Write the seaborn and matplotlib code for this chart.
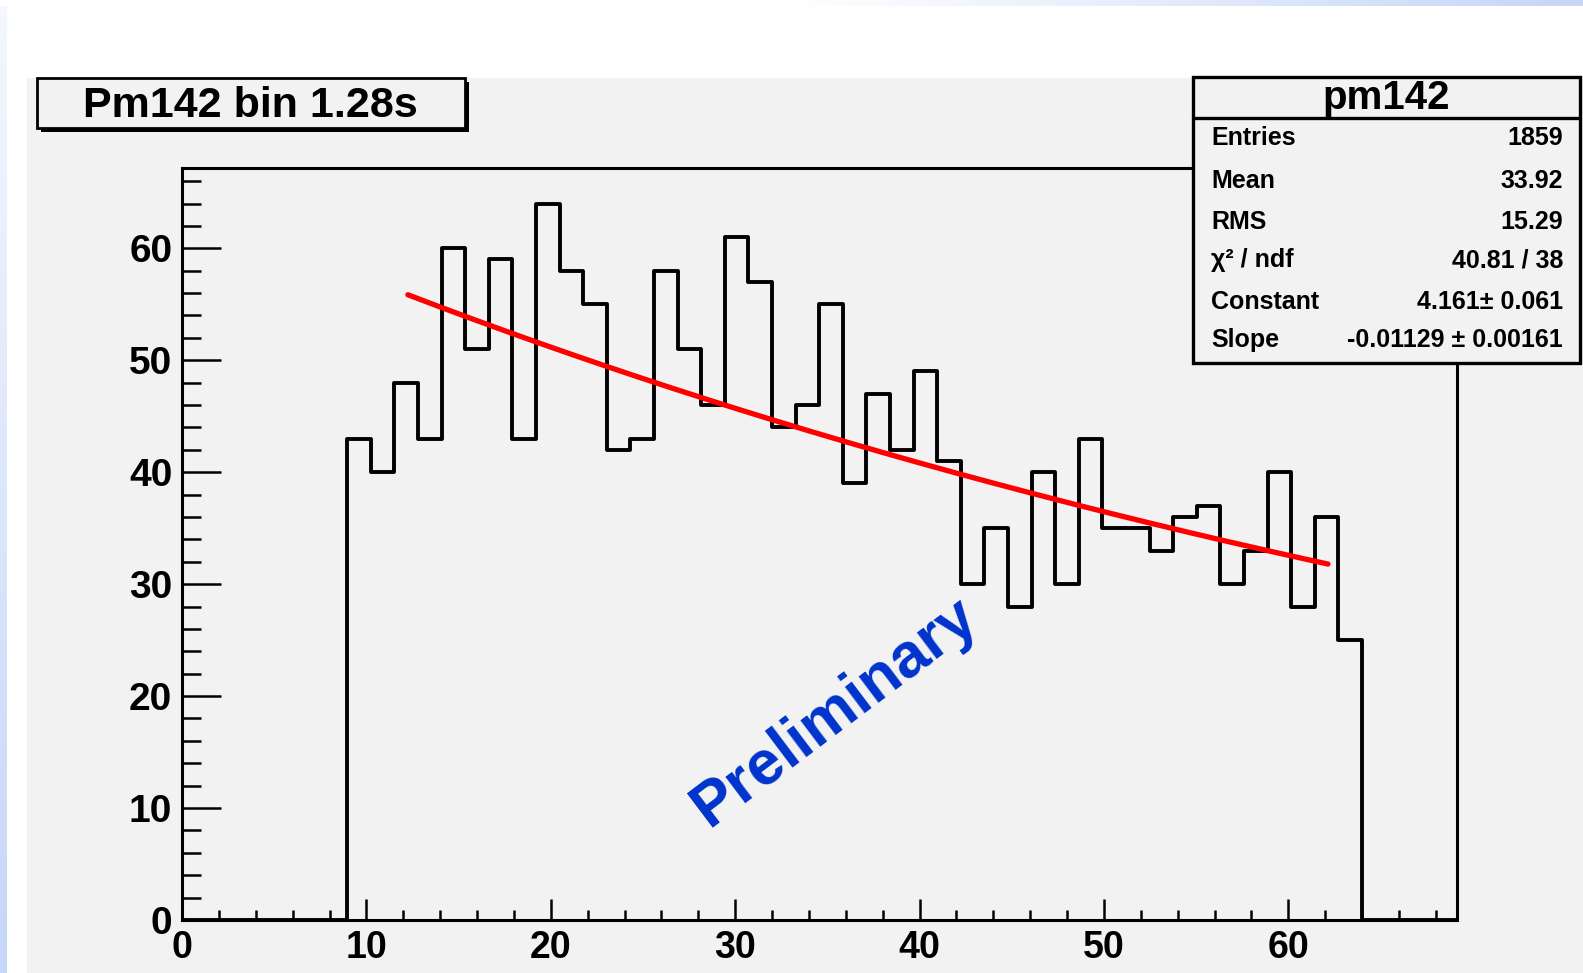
import numpy as np
import pandas as pd
import matplotlib
matplotlib.use("Agg")
import matplotlib.pyplot as plt
import seaborn as sns
from matplotlib.patches import Rectangle
from matplotlib.colors import LinearSegmentedColormap
from matplotlib.ticker import MultipleLocator

# ---- histogram data: 1.28 s bins, counts for bins 7..49 ----
bin_width = 1.28
n_bins = 54
first_bin = 7
counts = [43, 40, 48, 43, 60, 51, 59, 43, 64, 58, 55, 42, 43, 58, 51, 46,
          61, 57, 44, 46, 55, 39, 47, 42, 49, 41, 30, 35, 28, 40, 30, 43,
          35, 35, 33, 36, 37, 30, 33, 40, 28, 36, 25]

# ---- exponential fit: exp(Constant + Slope * t) ----
fit_constant = 4.161
fit_slope = -0.01129
fit_range = (12.25, 62.15)

plot_title = "Pm142 bin 1.28s"
stats_name = "pm142"
stats_labels = ["Entries", "Mean", "RMS", "χ² / ndf", "Constant", "Slope"]
stats_values = ["1859", "33.92", "15.29", "40.81 / 38", "4.161± 0.061", "-0.01129 ± 0.00161"]
x_ticks = [0, 10, 20, 30, 40, 50, 60]
y_ticks = [0, 10, 20, 30, 40, 50, 60]
y_max = 67.2

sns.set_style("white")
plt.rcParams["font.family"] = ["Liberation Sans", "DejaVu Sans"]
plt.rcParams["font.weight"] = "bold"
plt.rcParams["text.color"] = "black"
plt.rcParams["xtick.color"] = "black"
plt.rcParams["ytick.color"] = "black"
plt.rcParams["xtick.labelcolor"] = "black"
plt.rcParams["ytick.labelcolor"] = "black"

W, H = 1583, 973
PAD_GRAY = "#f2f2f2"
fig = plt.figure(figsize=(W / 100, H / 100), dpi=100, facecolor="white")

# ---- background (slide strips + canvas) ----
bg = fig.add_axes([0, 0, 1, 1], zorder=-2)
bg.axis("off")
blue_cmap = LinearSegmentedColormap.from_list("slide", ["#ffffff", "#ffffff", "#c6d6f8"])
bg.imshow(np.linspace(0, 1, 256)[None, :], cmap=blue_cmap, aspect="auto",
          extent=(0, W, 6, 0), interpolation="bilinear")
left_cmap = LinearSegmentedColormap.from_list("slide2", ["#f4f7fe", "#c6d6f8"])
bg.imshow(np.linspace(0, 1, 256)[:, None], cmap=left_cmap, aspect="auto",
          extent=(0, 7, H, 6), interpolation="bilinear")
bg.add_patch(Rectangle((27, 78), W - 27, H - 78, facecolor=PAD_GRAY, edgecolor="none"))
bg.set_xlim(0, W)
bg.set_ylim(H, 0)

# ---- main frame ----
ax = fig.add_axes([182 / W, 1 - 920 / H, (1456.5 - 182) / W, (920 - 167.7) / H])
ax.set_facecolor(PAD_GRAY)

full_counts = np.zeros(n_bins)
full_counts[first_bin:first_bin + len(counts)] = counts
df = pd.DataFrame({"t": (np.arange(n_bins) + 0.5) * bin_width, "n": full_counts})
sns.histplot(data=df, x="t", weights="n", binwidth=bin_width,
             binrange=(0, n_bins * bin_width), element="step", fill=False,
             color="black", linewidth=2.8, ax=ax)

t_fit = np.linspace(fit_range[0], fit_range[1], 300)
sns.lineplot(x=t_fit, y=np.exp(fit_constant + fit_slope * t_fit), color="#ff0000",
             linewidth=3.8, ax=ax, zorder=3)

ax.set_xlim(0, n_bins * bin_width)
ax.set_ylim(0, y_max)
ax.set_xlabel("")
ax.set_ylabel("")
ax.set_xticks(x_ticks)
ax.set_yticks(y_ticks)
ax.xaxis.set_minor_locator(MultipleLocator(2))
ax.yaxis.set_minor_locator(MultipleLocator(2))
ax.tick_params(which="both", direction="in", bottom=True, left=True, top=False,
               right=False, color="black", width=1.8)
ax.tick_params(axis="x", which="major", length=15, pad=7, labelsize=27, labelcolor="black")
ax.tick_params(axis="x", which="minor", length=7.5)
ax.tick_params(axis="y", which="major", length=28, pad=7, labelsize=28, labelcolor="black")
ax.tick_params(axis="y", which="minor", length=14)
for lab in ax.get_xticklabels() + ax.get_yticklabels():
    lab.set_fontweight("bold")
for sp in ax.spines.values():
    sp.set_visible(True)
    sp.set_color("black")
    sp.set_linewidth(2.2)

# ---- overlay: title box, stats box, watermark ----
ov = fig.add_axes([0, 0, 1, 1], zorder=5)
ov.axis("off")
ov.patch.set_alpha(0)

ov.add_patch(Rectangle((40.7, 82.3), 428.3, 49.7, facecolor="black", edgecolor="none"))
ov.add_patch(Rectangle((36.7, 78.3), 428.3, 49.7, facecolor=PAD_GRAY, edgecolor="black", linewidth=2))
ov.text(250, 106, plot_title, ha="center", va="center", fontsize=31, fontweight="bold")

sx0, sx1, sy0, sy1 = 1193, 1580, 76.7, 363
ov.add_patch(Rectangle((sx0, sy0), sx1 - sx0, sy1 - sy0, facecolor=PAD_GRAY,
                       edgecolor="black", linewidth=2.4))
ov.plot([sx0, sx1], [118, 118], color="black", linewidth=2.4)
ov.text((sx0 + sx1) / 2, 98, stats_name, ha="center", va="center", fontsize=29, fontweight="bold")
row_y = [138, 181, 222, 260, 302, 340]
for y, lab, val in zip(row_y, stats_labels, stats_values):
    ov.text(1211, y, lab, ha="left", va="center", fontsize=18, fontweight="bold")
    ov.text(1563, y, val, ha="right", va="center", fontsize=18, fontweight="bold")

ov.text(835, 712, "Preliminary", ha="center", va="center", rotation=37,
        rotation_mode="anchor", fontsize=45, fontweight="bold", color="#0033cc")
ov.set_xlim(0, W)
ov.set_ylim(H, 0)

fig.savefig("out.png", dpi=100, facecolor="white")
